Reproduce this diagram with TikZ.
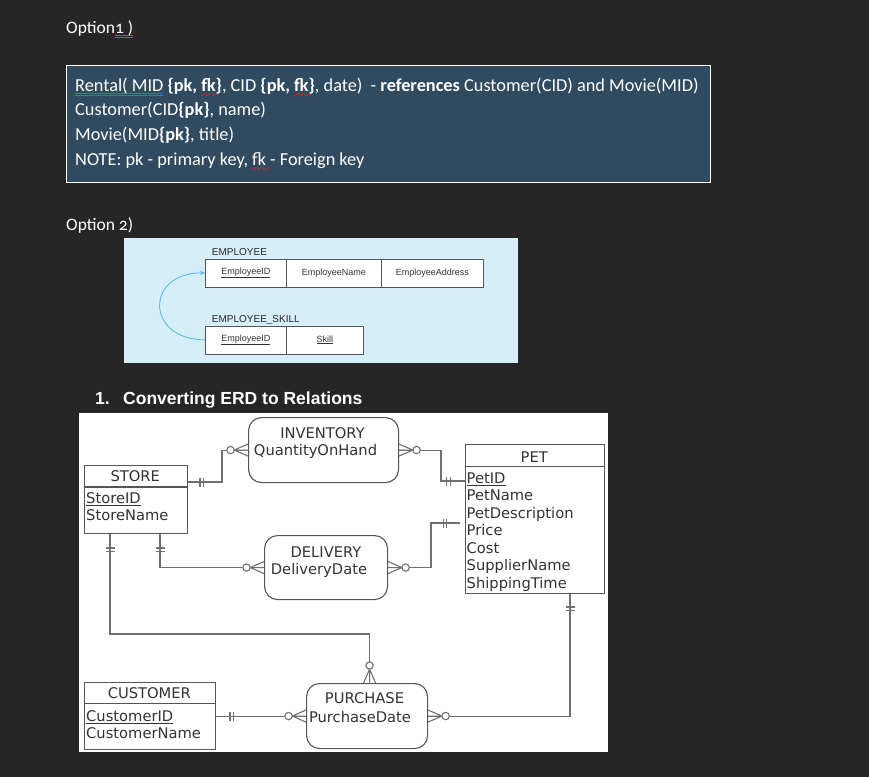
\documentclass[tikz,border=0pt]{standalone}
\usepackage{fontspec}
\setmainfont{Carlito}
\newfontfamily\erdfont{DejaVu Sans}
\newfontfamily\arialfont{Liberation Sans}
\usetikzlibrary{calc,arrows.meta}
\definecolor{bg}{HTML}{262626}
\definecolor{boxfill}{HTML}{304B5F}
\definecolor{panelblue}{HTML}{D5EEFA}
\definecolor{arcblue}{HTML}{4FB6EA}
\definecolor{erdtext}{HTML}{333333}
\definecolor{erdline}{HTML}{555555}
\definecolor{connline}{HTML}{707070}
\definecolor{celltext}{HTML}{333333}
\definecolor{ulblue}{HTML}{3A6FE0}
\definecolor{sqred}{HTML}{E02020}
\newcommand\blueul[1]{\setbox0\hbox{#1}\rlap{\color{ulblue}\raisebox{-3pt}{\rule{\wd0}{0.7pt}}}\rlap{\color{ulblue}\raisebox{-5pt}{\rule{\wd0}{0.7pt}}}\box0\relax}
\newcommand\sqseg{\raisebox{-5pt}{\rule{1.5pt}{1.2pt}}\raisebox{-4pt}{\rule{1.5pt}{1.2pt}}\raisebox{-3pt}{\rule{1.5pt}{1.2pt}}\raisebox{-4pt}{\rule{1.5pt}{1.2pt}}}
\newcommand\redsq[1]{\setbox0\hbox{#1}\rlap{\color{sqred}\sqseg\sqseg\sqseg\hspace{-3pt}}\box0\relax}
\tikzset{
  wtext/.style={text=white, inner sep=0, anchor=base west, font=\fontsize{18.3}{22}\selectfont},
  erd/.style={text=erdtext, inner sep=0, anchor=base, font=\erdfont\fontsize{14.7}{17}\selectfont},
  erdl/.style={erd, anchor=base west},
  ent/.style={draw=erdline, line width=1.1pt, fill=white, inner sep=0, anchor=north west},
  rbox/.style={ent, rounded corners=13pt},
  conn/.style={draw=connline, line width=1.1pt},
  cell/.style={draw=erdline, line width=0.8pt, fill=white, inner sep=0, anchor=north west, minimum height=28pt, text=celltext, font=\arialfont\fontsize{9}{11}\selectfont},
  lab/.style={text=black!85, inner sep=0, anchor=base west, font=\arialfont\fontsize{10}{12}\selectfont},
  crowfoot/.pic={
    \draw[conn] (0,-6) -- (-13.8,0) (0,0) -- (-13.8,0) (0,6) -- (-13.8,0);
    \draw[conn, fill=white] (-17.5,0) circle[radius=3.7pt];
  },
  twobars/.pic={
    \draw[conn] (-1.6,-4.5) -- (-1.6,4.5) (1.6,-4.5) -- (1.6,4.5);
  }
}
\begin{document}
\begin{tikzpicture}[x=1pt, y=-1pt]
\fill[bg] (0,0) rectangle (869,777);
\useasboundingbox (0,0) rectangle (869,777);

% ---------- Option 1 ----------
\node[wtext, font=\fontsize{17.5}{20}\selectfont\addfontfeatures{Numbers=OldStyle}] (opt1) at (66,33) {Option\blueul{1 )}};
\node[draw=white, line width=0.8pt, fill=boxfill, minimum width=644pt, minimum height=117pt, anchor=north west, inner sep=0] (relbox) at (66,65) {};
\node[wtext] (l1) at (75,91) {\blueul{Rental( MID} \textbf{\{pk, \redsq{fk}\}}, CID \textbf{\{pk, \redsq{fk}\}}, date)\ \ - \textbf{references} Customer(CID) and Movie(MID)};
\node[wtext] (l2) at (75,115.5) {Customer(CID\textbf{\{pk\}}, name)};
\node[wtext] (l3) at (75,140) {Movie(MID\textbf{\{pk\}}, title)};
\node[wtext] (l4) at (75,165) {NOTE: pk - primary key, \redsq{fk} - Foreign key};

% ---------- Option 2 ----------
\node[wtext, font=\fontsize{17.5}{20}\selectfont\addfontfeatures{Numbers=OldStyle}] (opt2) at (66,230) {Option 2)};
\fill[panelblue] (124,238) rectangle (518,363);
\node[lab] (emplab) at (211.7,255.5) {EMPLOYEE};
\node[cell, minimum width=81pt] (e1) at (205,258.5) {\underline{EmployeeID}};
\node[cell, minimum width=95pt] (e2) at (286,258.5) {EmployeeName};
\node[cell, minimum width=102pt] (e3) at (381,258.5) {EmployeeAddress};
\node[lab] (sklab) at (211.7,322.5) {EMPLOYEE\_SKILL};
\node[cell, minimum width=81pt] (s1) at (205,325.5) {\underline{EmployeeID}};
\node[cell, minimum width=77pt] (s2) at (286,325.5) {\underline{Skill}};
\draw[arcblue, line width=0.8pt, -{Stealth[length=5pt,width=4pt]}] (s1.west) .. controls (145,339.5) and (145,272.5) .. (e1.west);

% ---------- heading ----------
\node[inner sep=0, anchor=base west, text=white, font=\arialfont\bfseries\fontsize{17.5}{20}\selectfont] (h1) at (95,404.5) {1.};
\node[inner sep=0, anchor=base west, text=white, font=\arialfont\bfseries\fontsize{17.5}{20}\selectfont] (h2) at (123,404.5) {Converting ERD to Relations};

% ---------- ERD ----------
\fill[white] (79,413) rectangle (608,752);

% STORE
\node[ent, minimum width=102.5pt, minimum height=68pt] (store) at (84,464.5) {};
\draw[draw=erdline, line width=1.1pt] (84,487) -- (186.5,487);
\node[erd] (storeh) at (135.3,481) {STORE};
\node[erdl] (storea1) at (86,503.3) {\underline{StoreID}};
\node[erdl] (storea2) at (86,520.8) {StoreName};

% PET
\node[ent, minimum width=138.5pt, minimum height=149pt] (pet) at (465,444) {};
\draw[draw=erdline, line width=1.1pt] (465,466.5) -- (603.5,466.5);
\node[erd] (peth) at (534.3,462) {PET};
\node[erdl] (peta1) at (466.5,483.3) {\underline{PetID}};
\node[erdl] (peta2) at (466.5,500.8) {PetName};
\node[erdl] (peta3) at (466.5,518.3) {PetDescription};
\node[erdl] (peta4) at (466.5,535.8) {Price};
\node[erdl] (peta5) at (466.5,553.3) {Cost};
\node[erdl] (peta6) at (466.5,570.8) {SupplierName};
\node[erdl] (peta7) at (466.5,588.3) {ShippingTime};

% CUSTOMER
\node[ent, minimum width=130.5pt, minimum height=67pt] (cust) at (84,682) {};
\draw[draw=erdline, line width=1.1pt] (84,703.5) -- (214.5,703.5);
\node[erd] (custh) at (149.3,698.3) {CUSTOMER};
\node[erdl] (custa1) at (86,721.3) {\underline{CustomerID}};
\node[erdl] (custa2) at (86,738.8) {CustomerName};

% INVENTORY
\node[rbox, minimum width=150pt, minimum height=65pt] (inv) at (248,417) {};
\node[erd] (invt1) at (322.5,438.3) {INVENTORY};
\node[erd] (invt2) at (315.5,455.3) {QuantityOnHand};

% DELIVERY
\node[rbox, minimum width=123pt, minimum height=64pt] (del) at (264,535) {};
\node[erd] (delt1) at (326,557) {DELIVERY};
\node[erd] (delt2) at (319,574.6) {DeliveryDate};

% PURCHASE
\node[rbox, minimum width=121pt, minimum height=65pt] (purch) at (306,683) {};
\node[erd] (purt1) at (364.5,703.3) {PURCHASE};
\node[erd] (purt2) at (360,722) {PurchaseDate};

% connectors
% store - inventory
\draw[conn] ($(store.north east)+(0,17.5)$) -| ($(inv.west)+(-26,0)$) -- (inv.west);
\pic at ($(store.north east)+(14,17.5)$) {twobars};
\pic at (inv.west) {crowfoot};
% inventory - pet
\draw[conn] (inv.east) -| ($(pet.north west)+(-24,37)$) -- ($(pet.north west)+(0,37)$);
\pic[rotate=180] at (inv.east) {crowfoot};
\pic at ($(pet.north west)+(-16.5,37)$) {twobars};
% delivery - pet
\draw[conn] (del.east) -| ($(pet.north west)+(-34,79)$) -- ($(pet.north west)+(-5,79)$);
\pic[rotate=180] at (del.east) {crowfoot};
\pic at ($(pet.north west)+(-20,79)$) {twobars};
% store - delivery
\draw[conn] ($(store.south west)+(76,0)$) |- (del.west);
\pic[rotate=90] at ($(store.south west)+(76,16)$) {twobars};
\pic at (del.west) {crowfoot};
% store - purchase
\draw[conn] ($(store.south west)+(26,0)$) |- ($(purch.north)+(2.5,-49)$) -- ($(purch.north)+(2.5,0)$);
\pic[rotate=90] at ($(store.south west)+(26,16)$) {twobars};
\pic[rotate=-90] at ($(purch.north)+(2.5,0)$) {crowfoot};
% customer - purchase
\draw[conn] (cust.east) -- (purch.west);
\pic at ($(cust.east)+(16,0)$) {twobars};
\pic at (purch.west) {crowfoot};
% pet - purchase
\draw[conn] ($(pet.south west)+(105,0)$) |- (purch.east);
\pic[rotate=90] at ($(pet.south west)+(105,14.5)$) {twobars};
\pic[rotate=180] at (purch.east) {crowfoot};
\end{tikzpicture}
\end{document}
